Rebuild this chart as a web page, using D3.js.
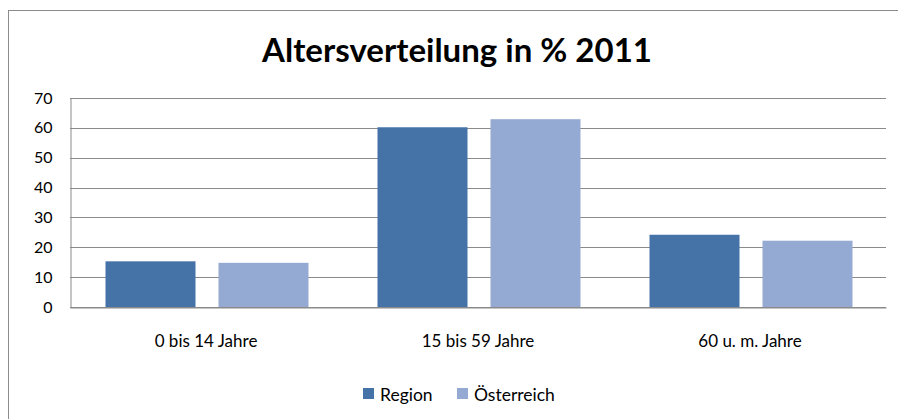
<!DOCTYPE html>
<html lang="de">
<head>
<meta charset="UTF-8" />
<title>Altersverteilung in % 2011</title>
<script src="https://d3js.org/d3.v7.min.js"></script>
<style>
    body { margin: 0; background: #fff; }
    svg { display: block; font-family: "Lato", "Open Sans", sans-serif; }
</style>
</head>
<body>
<div id="chart"></div>
<script>
    const categories = ["0 bis 14 Jahre", "15 bis 59 Jahre", "60 u. m. Jahre"];
    const seriesNames = ["Region", "Österreich"];
    const regionValues = [15.3, 60.2, 24.2];
    const oesterreichValues = [14.8, 62.9, 22.2];
    const yTicks = [0, 10, 20, 30, 40, 50, 60, 70];

    const data = categories.map((c, i) => ({
        cat: c,
        values: [
            { key: "Region", value: regionValues[i] },
            { key: "Österreich", value: oesterreichValues[i] }
        ]
    }));

    const W = 898, H = 419;
    const plot = { left: 70, right: 886, top: 98, bottom: 307 };

    const svg = d3.select("#chart").append("svg")
        .attr("width", W).attr("height", H);

    // Rahmen
    svg.append("rect")
        .attr("x", 8.5).attr("y", 10.5)
        .attr("width", W + 10).attr("height", H + 10)
        .attr("fill", "#fff")
        .attr("stroke", "#8c8c8c").attr("stroke-width", 1);

    // Titel
    svg.append("text")
        .attr("x", 457).attr("y", 62)
        .attr("text-anchor", "middle")
        .style("font-size", "33px")
        .style("font-weight", "bold")
        .attr("fill", "#000")
        .text("Altersverteilung in % 2011");

    const x0 = d3.scaleBand()
        .domain(categories)
        .range([plot.left, plot.right])
        .paddingInner(0)
        .paddingOuter(0);

    const y = d3.scaleLinear()
        .domain([0, 70])
        .range([plot.bottom, plot.top]);

    const color = d3.scaleOrdinal()
        .domain(seriesNames)
        .range(["#4573a7", "#94aad2"]);

    // Gitternetz
    svg.append("g")
        .selectAll("line")
        .data(yTicks)
        .join("line")
        .attr("x1", plot.left).attr("x2", plot.right)
        .attr("y1", d => Math.round(y(d)) + 0.5)
        .attr("y2", d => Math.round(y(d)) + 0.5)
        .attr("stroke", "#8a8a8a");

    // Y-Achse
    const yAxis = svg.append("g")
        .attr("transform", `translate(${plot.left + 0.5},0)`)
        .call(d3.axisLeft(y).tickValues(yTicks).tickSize(0).tickPadding(18));
    yAxis.select(".domain").attr("stroke", "#8a8a8a");
    yAxis.selectAll("text")
        .style("font-size", "16px")
        .style("font-family", "Lato, sans-serif")
        .attr("fill", "#000");

    // Balken
    const barW = 90, barGap = 23;
    const groupW = 2 * barW + barGap;
    svg.append("g")
        .selectAll("g")
        .data(data)
        .join("g")
        .attr("transform", d => `translate(${x0(d.cat) + (x0.bandwidth() - groupW) / 2 + 1},0)`)
        .selectAll("rect")
        .data(d => d.values)
        .join("rect")
        .attr("x", (d, i) => i * (barW + barGap))
        .attr("y", d => y(d.value))
        .attr("width", barW)
        .attr("height", d => y(0) - y(d.value))
        .attr("fill", d => color(d.key));

    // X-Achse
    const xAxis = svg.append("g")
        .attr("transform", `translate(0,${Math.round(y(0)) + 0.5})`)
        .call(d3.axisBottom(x0).tickSize(0).tickPadding(27));
    xAxis.select(".domain").attr("stroke", "#8a8a8a");
    xAxis.selectAll("text")
        .style("font-size", "17px")
        .style("font-family", "Lato, sans-serif")
        .attr("fill", "#000");

    // Legende
    const legendPos = [363, 457];
    const legend = svg.append("g");
    seriesNames.forEach((s, i) => {
        legend.append("rect")
            .attr("x", legendPos[i]).attr("y", 388)
            .attr("width", 11).attr("height", 11)
            .attr("fill", color(s));
        legend.append("text")
            .attr("x", legendPos[i] + 17).attr("y", 401)
            .style("font-size", "17.5px")
            .attr("fill", "#000")
            .text(s);
    });
</script>
</body>
</html>
